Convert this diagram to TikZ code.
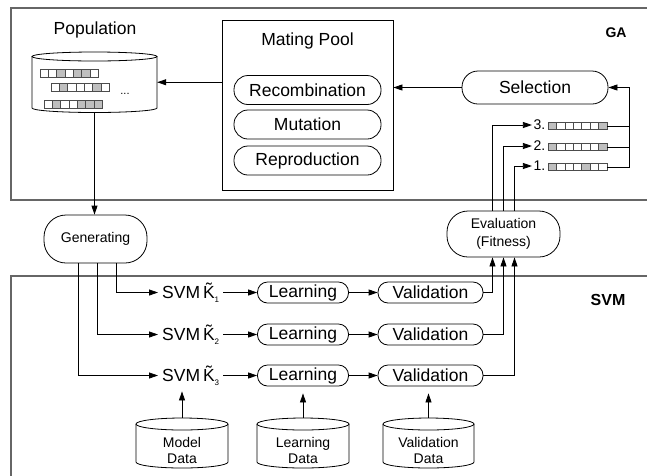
\documentclass[tikz,border=0pt]{standalone}
\usepackage{fontspec}
\setmainfont{Liberation Sans}
\usetikzlibrary{arrows.meta}
\colorlet{cw}{white}
\colorlet{cg}{black!25}
\newcommand{\chromrow}[5]{%
  \foreach \c [count=\i from 0] in {#5} {\draw[cellline, fill=c\c] ({#1+\i*#3},#2) rectangle ++(#3,#4);}}
\newcommand{\mydb}[4]{%
  \draw[ln, fill=white] ({#1-#2},{#3+6}) -- ({#1-#2},{#4-6}) arc[start angle=180, end angle=0, x radius=#2, y radius=6] -- ({#1+#2},{#3+6});
  \draw[ln] (#1,{#3+6}) ellipse[x radius=#2, y radius=6];}
\newcommand{\Ksub}[1]{K̃{\fontsize{8}{8}\selectfont\raisebox{-4pt}{#1}}}
\begin{document}
\begin{tikzpicture}[x=1pt,y=-1pt,
  big/.style={font=\fontsize{17.5}{20}\selectfont},
  mid/.style={font=\fontsize{14}{18}\selectfont},
  pill/.style={draw, rounded corners=#1, inner sep=0pt, line width=0.8pt},
  arr/.style={-{Triangle[length=9pt,width=6pt]}, line width=0.8pt},
  ln/.style={line width=0.8pt},
  cellline/.style={draw=black!70, line width=0.6pt},
  frame/.style={draw=black!60, line width=1.3pt}]
\useasboundingbox (0,0) rectangle (647,475);

% frames
\draw[frame] (648,8) -- (11,8) -- (11,200) -- (648,200);
\draw[frame] (648,276) -- (11,276) -- (11,477);
\node[font=\bfseries\fontsize{14}{16}\selectfont] (ga) at (616,33) {GA};
\node[font=\bfseries\fontsize{16}{18}\selectfont] (svmlbl) at (608,300) {SVM};

% population
\node[big] (poplbl) at (95,30) {Population};
\node[minimum width=125, minimum height=60.5, inner sep=0pt] (pop) at (94.5,82.25) {};
\draw[ln] (32,56.5) -- (32,108) arc[start angle=180, end angle=0, x radius=62.5, y radius=4.5] -- (157,56.5);
\draw[ln] (94.5,56.5) ellipse[x radius=62.5, y radius=4.5];
\chromrow{40}{69}{8.3}{8}{w,w,g,w,g,g,w}
\chromrow{51}{83}{8.3}{8}{w,g,w,w,w,g,w}
\chromrow{44}{100}{8.3}{8}{w,g,w,w,g,g,g}
\node[font=\fontsize{11}{12}\selectfont, anchor=base] (dots) at (125,94) {...};

% mating pool
\node[draw, ln, minimum width=171, minimum height=170, inner sep=0pt] (mp) at (307.5,105) {};
\node[big] (mptitle) at (307.5,41) {Mating Pool};
\node[pill=14, big, minimum width=147, minimum height=29] (rec) at (307.5,90) {Recombination};
\node[pill=14, big, minimum width=147, minimum height=29] (mut) at (307.5,124.5) {Mutation};
\node[pill=14, big, minimum width=147, minimum height=29] (rep) at (307.5,160.5) {Reproduction};

% selection
\node[pill=16, big, minimum width=146, minimum height=33] (sel) at (535,87.5) {Selection};

% ranked chromosomes
\node[inner sep=0pt, minimum width=59, minimum height=6.5, anchor=west] (c3) at (548,126) {};
\node[inner sep=0pt, minimum width=59, minimum height=6.5, anchor=west] (c2) at (548,147) {};
\node[inner sep=0pt, minimum width=59, minimum height=6.5, anchor=west] (c1) at (548,167) {};
\chromrow{548}{122.75}{8.43}{6.5}{g,w,w,w,w,w,g}
\chromrow{548}{143.75}{8.43}{6.5}{g,w,w,w,w,w,g}
\chromrow{548}{163.75}{8.43}{6.5}{g,w,w,w,g,w,w}
\node[mid, anchor=east, inner sep=1.5pt] (n3) at (547,125) {3.};
\node[mid, anchor=east, inner sep=1.5pt] (n2) at (547,146) {2.};
\node[mid, anchor=east, inner sep=1.5pt] (n1) at (547,166) {1.};
\coordinate (j) at (629,87.5);

% generating / evaluation
\node[pill=22, mid, minimum width=103, minimum height=48] (gen) at (95.5,239) {Generating};
\node[pill=21, mid, minimum width=113, minimum height=46, align=center] (ev) at (503.5,234) {Evaluation\\(Fitness)};

% SVM rows
\node[big, anchor=west, inner xsep=4pt, inner ysep=2pt] (s1) at (158,292.5) {SVM\,\Ksub{1}};
\node[big, anchor=west, inner xsep=4pt, inner ysep=2pt] (s2) at (158,334.5) {SVM\,\Ksub{2}};
\node[big, anchor=west, inner xsep=4pt, inner ysep=2pt] (s3) at (158,375.5) {SVM\,\Ksub{3}};
\foreach \r/\y in {1/292.5,2/334.5,3/375.5} {
  \node[pill=10, big, minimum width=91, minimum height=21] (l\r) at (303,\y) {Learning};
  \node[pill=10, big, minimum width=105, minimum height=21] (v\r) at (430.5,\y) {Validation};
}

% databases
\mydb{182}{46}{418}{468}
\mydb{303}{46}{418}{468}
\mydb{428.5}{45.5}{418}{468}
\node[inner sep=0pt, minimum width=92, minimum height=50] (md) at (182,443) {};
\node[inner sep=0pt, minimum width=92, minimum height=50] (ld) at (303,443) {};
\node[inner sep=0pt, minimum width=91, minimum height=50] (vd) at (428.5,443) {};
\node[align=center, font=\fontsize{14}{16}\selectfont] (mdt) at (182,450) {Model\\Data};
\node[align=center, font=\fontsize{14}{16}\selectfont] (ldt) at (303,450) {Learning\\Data};
\node[align=center, font=\fontsize{14}{16}\selectfont] (vdt) at (428.5,450) {Validation\\Data};

% connectors
\draw[arr] (pop.east -| mp.west) -- (pop.east);
\draw[arr] (sel.west) -- (sel.west -| mp.east);
\draw[ln] (c3.east) -- (c3.east -| j);
\draw[ln] (c2.east) -- (c2.east -| j);
\draw[arr] (c1.east) -| (j) -- (sel.east);
\draw[arr] ([xshift=-11pt]ev.north) |- (n3.west);
\draw[arr] (ev.north) |- (n2.west);
\draw[arr] ([xshift=11pt]ev.north) |- (n1.west);
\draw[arr] (pop.south) -- (pop.south |- gen.north);
\draw[arr] ([xshift=20.5pt]gen.south) |- (s1.west);
\draw[arr] ([xshift=1.5pt]gen.south) |- (s2.west);
\draw[arr] ([xshift=-17.5pt]gen.south) |- (s3.west);
\foreach \r in {1,2,3} {
  \draw[arr] (s\r.east) -- (l\r.west);
  \draw[arr] (l\r.east) -- (v\r.west);
}
\draw[arr] (v1.east) -| ([xshift=-11pt]ev.south);
\draw[arr] (v2.east) -| (ev.south);
\draw[arr] (v3.east) -| ([xshift=11pt]ev.south);
\draw[arr, shorten >=5pt] (md.north) -- (md.north |- l3.south);
\draw[arr, shorten >=7pt] (ld.north) -- (l3.south);
\draw[arr, shorten >=7pt] (vd.north) -- (vd.north |- v3.south);
\end{tikzpicture}
\end{document}
